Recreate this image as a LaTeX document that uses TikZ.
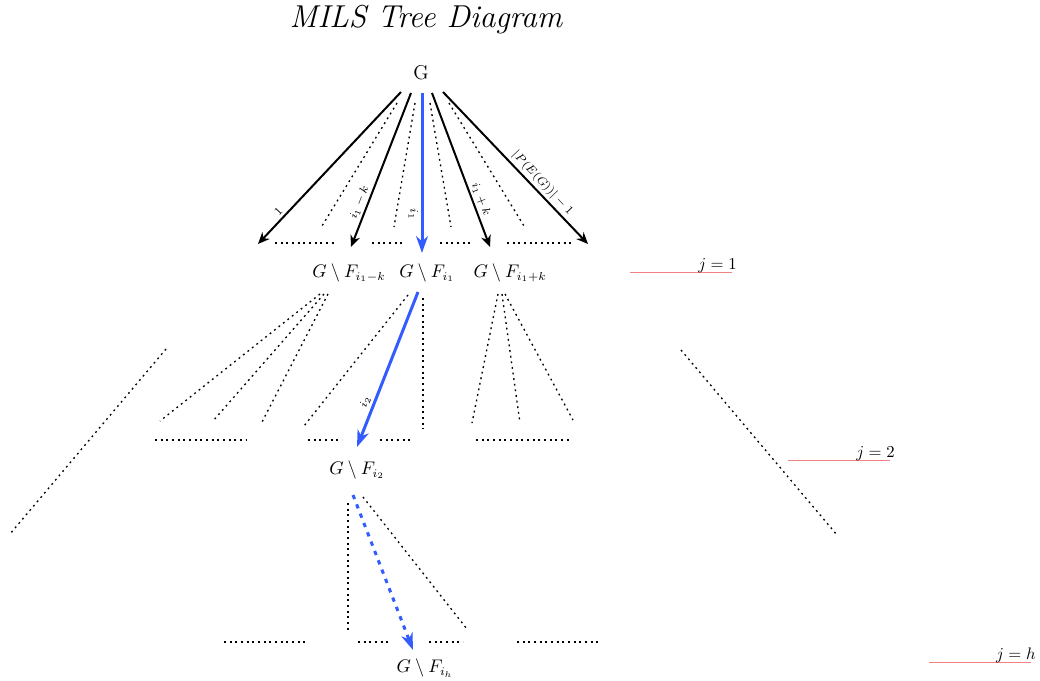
\documentclass[tikz,border=0pt]{standalone}
\usetikzlibrary{arrows.meta}
\definecolor{myblue}{RGB}{51,92,255}
\definecolor{lvlred}{RGB}{240,130,130}
\begin{document}
\begin{tikzpicture}[x=0.6pt,y=-0.6pt,
  dotline/.style={line width=0.8pt,dash pattern=on 1.1pt off 2.3pt},
  blk/.style={line width=1.2pt,-{Stealth[length=7pt,width=6pt]}},
  blu/.style={myblue,line width=1.8pt,-{Stealth[length=10pt,width=7pt,inset=3pt]}},
  bludot/.style={myblue,line width=1.8pt,dash pattern=on 2.6pt off 3.4pt,-{Stealth[length=10pt,width=7pt,inset=3pt]}},
  elab/.style={font=\scriptsize,text=black,sloped,inner sep=1.5pt},
  gf/.style={font=\fontsize{10.7}{13}\selectfont},
  lvl/.style={lvlred,line width=0.6pt},
  lvltext/.style={anchor=base east,inner sep=0pt}]
\useasboundingbox (0,0) rectangle (1040,681);

% title and root
\node[font=\fontsize{19}{23}\selectfont\itshape] (title) at (426,20) {MILS Tree Diagram};
\node[font=\large] (G) at (421,73) {G};

% subtree labels
\node[gf] (A) at (349,273) {$G\setminus F_{i_1-k}$};
\node[gf] (B) at (427,273) {$G\setminus F_{i_1}$};
\node[gf] (C) at (510,273) {$G\setminus F_{i_1+k}$};
\node[gf] (D) at (357,470) {$G\setminus F_{i_2}$};
\node[gf] (E) at (425,668) {$G\setminus F_{i_h}$};

% arrow start/end coordinates
\coordinate (s1) at (401,92);
\coordinate (s2) at (411,93);
\coordinate (s3) at (422,93);
\coordinate (s4) at (432,93);
\coordinate (s5) at (443,92);
\coordinate (e1) at (258,244);
\coordinate (e2) at (351,247);
\coordinate (e3) at (422,253);
\coordinate (e4) at (490,247);
\coordinate (e5) at (588,244);

\draw[blk] (s1) -- node[elab,above,pos=0.82] (l1) {$1$} (e1);
\draw[blk] (s2) -- node[elab,above,pos=0.73] (l2) {$i_1-k$} (e2);
\draw[blu] (s3) -- node[elab,below,pos=0.76] (l3) {$i_1$} (e3);
\draw[blk] (s4) -- node[elab,above,pos=0.71] (l4) {$i_1+k$} (e4);
\draw[blk] (s5) -- node[elab,above,pos=0.64] (l5) {$|P(E(G))|-1$} (e5);

% level 1 dotted
\draw[dotline] (397,103) -- (322,226);
\draw[dotline] (415,103) -- (394,227);
\draw[dotline] (430,103) -- (451,227);
\draw[dotline] (449,103) -- (524,226);
\draw[dotline] (275,243) -- (337,243);
\draw[dotline] (372,243) -- (405,243);
\draw[dotline] (440,243) -- (473,243);
\draw[dotline] (507,243) -- (572,243);

% level 2
\draw[dotline] (320,294) -- (160,421);
\draw[dotline] (324,294) -- (213,421);
\draw[dotline] (328,294) -- (262,422);
\draw[dotline] (166,349) -- (10,534);
\draw[dotline] (408,295) -- (304,426);
\draw[dotline] (423,298) -- (423,429);
\coordinate (s6) at (418,292);
\coordinate (e6) at (357,447);
\draw[blu] (s6) -- node[elab,above,pos=0.73] (l6) {$i_2$} (e6);
\draw[dotline] (498,294) -- (472,423);
\draw[dotline] (502,294) -- (520,423);
\draw[dotline] (505,294) -- (573,420);
\draw[dotline] (155,440) -- (250,440);
\draw[dotline] (308,440) -- (342,440);
\draw[dotline] (380,440) -- (413,440);
\draw[dotline] (476,440) -- (571,440);
\draw[dotline] (681,350) -- (837,535);

% level 3
\coordinate (s7) at (353,495);
\coordinate (e7) at (413,650);
\draw[bludot] (s7) -- (e7);
\draw[dotline] (348,503) -- (348,633);
\draw[dotline] (363,497) -- (467,629);
\draw[dotline] (224,642) -- (307,642);
\draw[dotline] (358,642) -- (391,642);
\draw[dotline] (429,642) -- (463,642);
\draw[dotline] (517,642) -- (599,642);

% level markers
\draw[lvl] (630,272) -- (732,272);
\node[lvltext] (j1) at (737,269) {$j=1$};
\draw[lvl] (788,460) -- (890,460);
\node[lvltext] (j2) at (895,457) {$j=2$};
\draw[lvl] (929,662) -- (1031,662);
\node[lvltext] (jh) at (1036,659) {$j=h$};
\end{tikzpicture}
\end{document}
